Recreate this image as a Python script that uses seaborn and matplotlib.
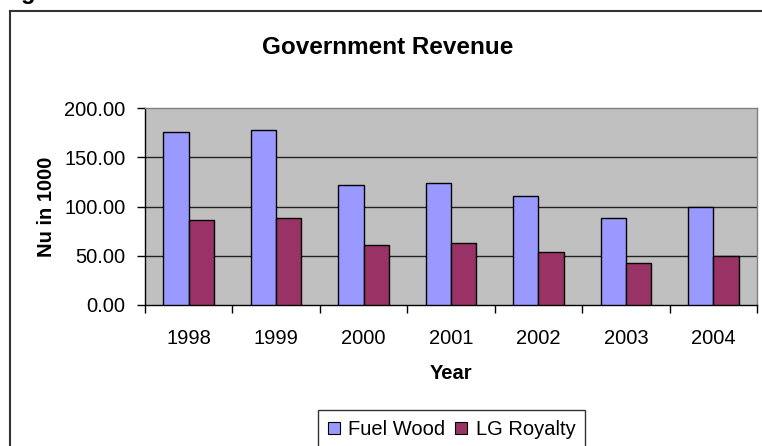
import matplotlib
matplotlib.use("Agg")
import matplotlib.pyplot as plt
import seaborn as sns
import pandas as pd
from matplotlib.lines import Line2D
from matplotlib.patches import Patch

years = ["1998", "1999", "2000", "2001", "2002", "2003", "2004"]
fuel_wood = [175.5, 177.3, 122.1, 124.2, 110.7, 88.3, 99.5]
lg_royalty = [86.6, 88.3, 60.9, 62.6, 54.1, 43.0, 49.7]
series = ["Fuel Wood", "LG Royalty"]
colors = ["#9999FF", "#993366"]
yticks = [0, 50, 100, 150, 200]

df = pd.DataFrame({
    "Year": years * 2,
    "Value": fuel_wood + lg_royalty,
    "Series": [series[0]] * len(years) + [series[1]] * len(years),
})

plt.rcParams["font.family"] = ["Liberation Sans", "DejaVu Sans"]

W, H = 762, 446
fig = plt.figure(figsize=(W / 100, H / 100), dpi=100)
L, R, T, B = 145, 757, 108, 305
ax = fig.add_axes([L / W, 1 - B / H, (R - L) / W, (B - T) / H])
ax.set_facecolor("#C0C0C0")

sns.barplot(data=df, x="Year", y="Value", hue="Series", order=years,
            hue_order=series, palette=colors, width=0.58, gap=0,
            edgecolor="black", linewidth=1.0, saturation=1, ax=ax,
            legend=False, zorder=3)

FS = 14.5
ax.set_ylim(0, 200)
ax.set_xlim(-0.5, len(years) - 0.5)
ax.set_yticks(yticks)
ax.set_yticklabels([f"{v:.2f}" for v in yticks], fontsize=FS)
for v in yticks[1:-1]:
    ax.axhline(v, color="#222222", lw=1.0, zorder=1)

ax.set_xticks(range(len(years)))
ax.set_xticklabels(years, fontsize=FS)
ax.tick_params(axis="x", which="major", length=0, pad=17)
ax.set_xticks([i - 0.5 for i in range(len(years) + 1)], minor=True)
ax.tick_params(axis="x", which="minor", length=6, width=1, color="black", direction="out")
ax.tick_params(axis="y", length=6, width=1, color="black", direction="out", pad=8)

for s in ["top", "right"]:
    ax.spines[s].set_color("#808080")
    ax.spines[s].set_linewidth(1.0)
for s in ["left", "bottom"]:
    ax.spines[s].set_color("black")
    ax.spines[s].set_linewidth(1.0)

ax.set_xlabel("Year", fontsize=FS, fontweight="bold", labelpad=12)
ax.set_ylabel("Nu in 1000", fontsize=FS, fontweight="bold", labelpad=6)

fig.text(388 / W, 1 - 47 / H, "Government Revenue", fontsize=17.5, fontweight="bold",
         ha="center", va="center")
fig.text(21 / W, 1 + 1 / H, "g", fontsize=17, fontweight="bold", ha="left", va="baseline")

# outer chart frame (left and top visible)
fig.add_artist(Line2D([10 / W, 10 / W], [0, 1 - 11 / H], transform=fig.transFigure,
                      color="#333333", lw=1.5))
fig.add_artist(Line2D([10 / W, 1], [1 - 11 / H, 1 - 11 / H], transform=fig.transFigure,
                      color="#333333", lw=1.5))

handles = [Patch(facecolor=c, edgecolor="black", lw=0.8) for c in colors]
leg = fig.legend(handles, series, loc="upper left", bbox_to_anchor=(318 / W, 1 - 410 / H),
                 ncol=2, frameon=True, fancybox=False, fontsize=FS, handlelength=0.6,
                 handleheight=0.6, handletextpad=0.4, columnspacing=0.5,
                 borderpad=0.5, borderaxespad=0)
leg.get_frame().set_edgecolor("black")
leg.get_frame().set_linewidth(1.0)

fig.savefig("out.png", dpi=100)
